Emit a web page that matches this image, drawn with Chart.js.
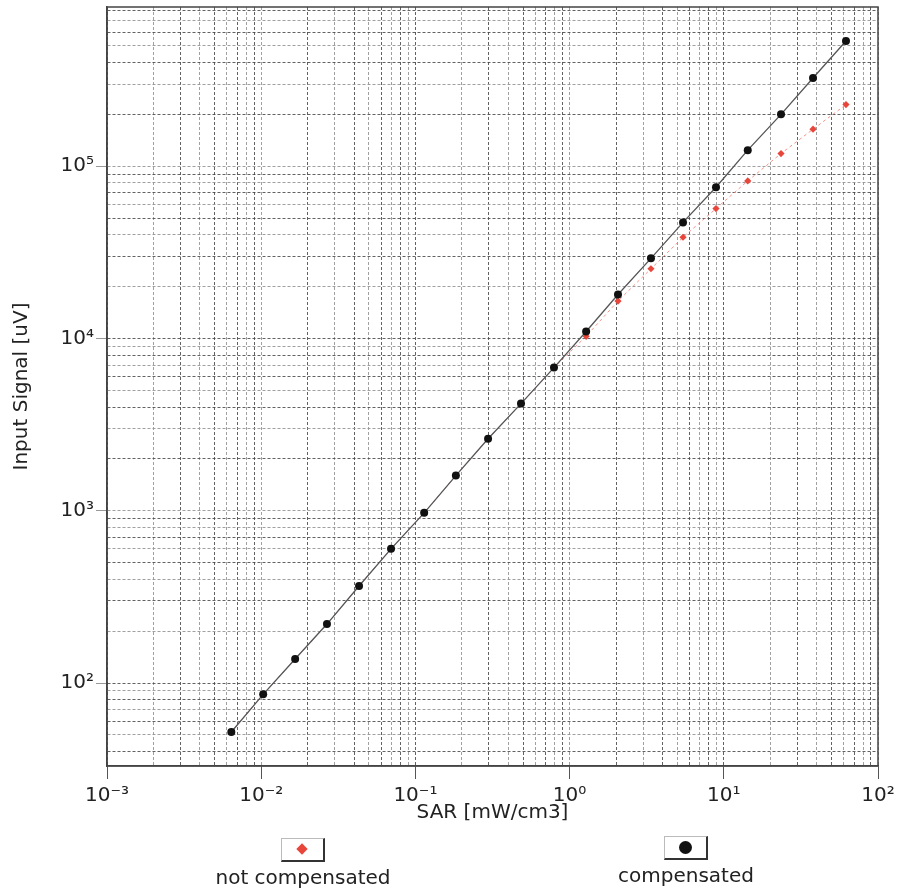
<!DOCTYPE html>
<html>
<head>
<meta charset="utf-8">
<script src="https://cdn.jsdelivr.net/npm/chart.js@4.4.0/dist/chart.umd.min.js"></script>
<style>
    html, body { margin: 0; padding: 0; background: #fff; }
    #wrap { position: relative; width: 907px; height: 892px; }
    #wrap canvas { position: absolute; left: 0; top: 0; }
    .leg { position: absolute; width: 220px; font-family: 'DejaVu Sans', sans-serif; font-size: 20px; color: #222; text-align: center; }
    .leg .box { position: relative; margin: 0 auto; width: 41px; height: 21px; background: #fff;
        border: 1px solid #bbb; border-right: 2px solid #333; border-bottom: 2px solid #333; }
    .leg .lbl { margin-top: 5px; line-height: 20px; }
    .mk-diamond { position: absolute; left: 16px; top: 6px; width: 8px; height: 8px; background: #e8463a; transform: rotate(45deg); }
    .mk-circle { position: absolute; left: 14px; top: 4px; width: 13px; height: 13px; border-radius: 50%; background: #111; }
</style>
</head>
<body>
<div id="wrap">
    <canvas id="sarChart" width="907" height="892"></canvas>
    <div class="leg" style="left:193px;top:838px;">
        <div class="box"><div class="mk-diamond"></div></div>
        <div class="lbl">not compensated</div>
    </div>
    <div class="leg" style="left:576px;top:836px;">
        <div class="box"><div class="mk-circle"></div></div>
        <div class="lbl">compensated</div>
    </div>
</div>
<script>
// ---- Data ----
const SAR = [0.0064, 0.0103, 0.0166, 0.0267, 0.0431, 0.0695, 0.114, 0.183, 0.296, 0.484,
    0.792, 1.28, 2.06, 3.37, 5.44, 8.9, 14.3, 23.5, 37.9, 62];
const compensated = [52, 86, 138, 220, 366, 601, 973, 1600, 2620, 4190,
    6780, 10980, 18000, 29200, 47200, 75500, 124000, 200000, 325000, 533000];
const notCompensated = [52, 86, 138, 220, 366, 601, 973, 1600, 2620, 4190,
    6780, 10300, 16500, 25400, 38700, 56800, 82200, 118500, 164000, 228000];

const X_DECADES = [-3, -2, -1, 0, 1, 2];
const X_TICK_LABELS = ['10⁻³', '10⁻²', '10⁻¹', '10⁰', '10¹', '10²'];
const Y_DECADES = [2, 3, 4, 5];
const Y_TICK_LABELS = ['10²', '10³', '10⁴', '10⁵'];

const X_MIN = 1e-3, X_MAX = 1e2;
const Y_MIN = 33, Y_MAX = 840000;

const FONT = 'DejaVu Sans';

// 1..9 x 10^n grid positions inside [min, max]
function logGrid(min, max) {
    const out = [];
    for (let e = Math.floor(Math.log10(min)); e <= Math.ceil(Math.log10(max)); e++) {
        for (let m = 1; m <= 9; m++) {
            const v = m * Math.pow(10, e);
            if (v >= min * 0.999 && v <= max * 1.001) out.push({ value: v, major: m === 1 });
        }
    }
    return out;
}

function decadeLabel(v, decades, labels) {
    const e = Math.round(Math.log10(v));
    if (Math.abs(Math.log10(v) - e) > 1e-6) return '';
    const i = decades.indexOf(e);
    return i >= 0 ? labels[i] : '';
}

const gridColor = c => (c.index % 2 ? 'rgba(150,150,150,0.9)' : 'rgba(70,70,70,0.85)');

// frame around the plot area (top + right sides)
const framePlugin = {
    id: 'frame',
    afterDraw(chart) {
        const { ctx, chartArea: a } = chart;
        ctx.save();
        ctx.strokeStyle = '#444';
        ctx.lineWidth = 1.5;
        ctx.strokeRect(a.left, a.top, a.right - a.left, a.bottom - a.top);
        ctx.restore();
    }
};

const points = arr => SAR.map((x, i) => ({ x, y: arr[i] }));

new Chart(document.getElementById('sarChart'), {
    type: 'line',
    data: {
        datasets: [
            {
                label: 'compensated', data: points(compensated),
                borderColor: '#555', borderWidth: 1.3,
                pointStyle: 'circle', pointRadius: 4, pointBackgroundColor: '#111',
                pointBorderColor: '#111', pointBorderWidth: 0
            },
            {
                label: 'not compensated', data: points(notCompensated),
                borderColor: 'rgba(240,120,110,0.8)', borderWidth: 1, borderDash: [3, 3],
                pointStyle: 'rectRot', pointRadius: 3.6, pointBackgroundColor: '#e8463a',
                pointBorderColor: '#e8463a', pointBorderWidth: 0
            }
        ]
    },
    options: {
        responsive: false,
        animation: false,
        layout: { padding: { left: 0, top: 7, right: 29, bottom: 66 } },
        plugins: { legend: { display: false }, tooltip: { enabled: false } },
        scales: {
            x: {
                type: 'logarithmic', min: X_MIN, max: X_MAX,
                afterBuildTicks: s => { s.ticks = logGrid(X_MIN, X_MAX); },
                afterFit: s => { s.height = 60; s.paddingLeft = 0; s.paddingRight = 0; },
                ticks: {
                    autoSkip: false, maxRotation: 0, minRotation: 0, padding: 5,
                    color: '#222', font: { family: FONT, size: 20 },
                    callback: v => decadeLabel(v, X_DECADES, X_TICK_LABELS)
                },
                grid: {
                    color: gridColor, lineWidth: 1, tickLength: 13,
                    tickColor: c => (c.tick && c.tick.major ? '#555' : 'rgba(0,0,0,0)')
                },
                border: { color: '#444', width: 1.5, dash: [3, 2] },
                title: {
                    display: true, text: 'SAR [mW/cm3]', color: '#222',
                    font: { family: FONT, size: 20 }, padding: { top: 0, bottom: 1 }
                }
            },
            y: {
                type: 'logarithmic', min: Y_MIN, max: Y_MAX,
                afterBuildTicks: s => { s.ticks = logGrid(Y_MIN, Y_MAX); },
                afterFit: s => { s.width = 107; s.paddingTop = 0; s.paddingBottom = 0; },
                ticks: {
                    autoSkip: false, padding: 2,
                    color: '#222', font: { family: FONT, size: 20 },
                    callback: v => decadeLabel(v, Y_DECADES, Y_TICK_LABELS)
                },
                grid: {
                    color: gridColor, lineWidth: 1, tickLength: 11,
                    tickColor: c => (c.tick && c.tick.major ? '#999' : 'rgba(0,0,0,0)')
                },
                border: { color: '#444', width: 1.5, dash: [3, 2] },
                title: {
                    display: true, text: 'Input Signal [uV]', color: '#222',
                    font: { family: FONT, size: 20 }, padding: { top: 10, bottom: 0 }
                }
            }
        }
    },
    plugins: [framePlugin]
});
</script>
</body>
</html>
